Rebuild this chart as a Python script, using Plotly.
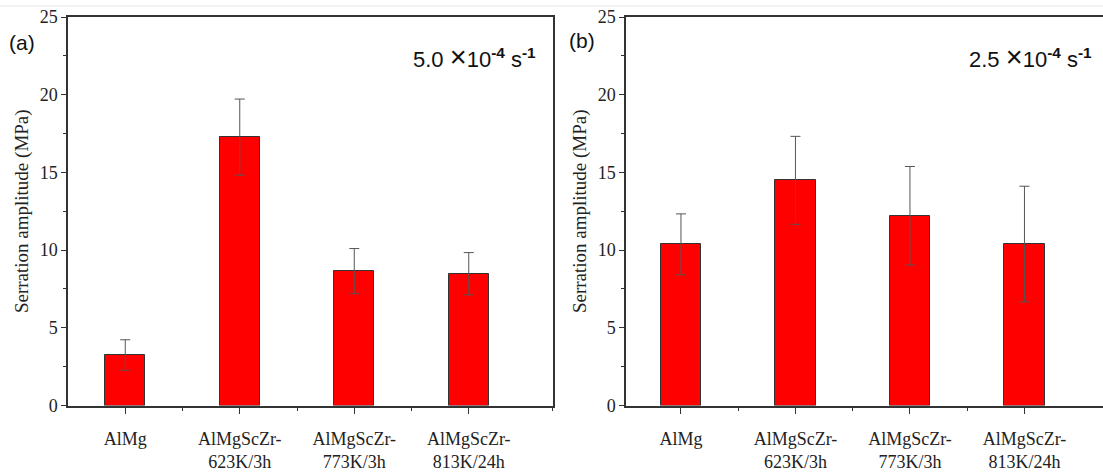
import plotly.graph_objects as go

categories = ["AlMg", "AlMgScZr-<br>623K/3h", "AlMgScZr-<br>773K/3h", "AlMgScZr-<br>813K/24h"]
values_a = [3.25, 17.27, 8.65, 8.48]
errors_a = [0.98, 2.45, 1.45, 1.36]
values_b = [10.37, 14.49, 12.21, 10.39]
errors_b = [1.96, 2.83, 3.17, 3.72]
labels = ["(a)", "(b)"]
rates = [
    "5.0 <span style='font-size:29px'>×</span>10<sup><b>-4</b></sup> s<sup><b>-1</b></sup>",
    "2.5 <span style='font-size:29px'>×</span>10<sup><b>-4</b></sup> s<sup><b>-1</b></sup>",
]

W, H = 1103, 473
xpos = list(range(len(categories)))

fig = go.Figure()
for i, (vals, errs) in enumerate([(values_a, errors_a), (values_b, errors_b)]):
    fig.add_trace(go.Bar(
        x=xpos, y=vals, width=0.35,
        marker=dict(color="#FF0000", line=dict(color="#333333", width=1)),
        error_y=dict(type="data", array=errs, visible=True, color="#555555", thickness=1, width=5),
        xaxis="x" if i == 0 else "x2", yaxis="y" if i == 0 else "y2",
        showlegend=False,
    ))

ydom = [1 - 405.5 / H, 1 - 17 / H]
serif = "Liberation Serif, DejaVu Serif, serif"
sans = "Liberation Sans, Arial, sans-serif"

def xaxis(domain, rng, mirror, anchor, minor_vals):
    return dict(
        domain=domain, range=rng, anchor=anchor, automargin=False,
        tickmode="array", tickvals=xpos, ticktext=categories,
        ticks="outside", ticklen=7, tickwidth=1, tickcolor="#333",
        minor=dict(tickmode="array", tickvals=minor_vals, ticks="outside", ticklen=4, tickcolor="#333"),
        showline=True, linecolor="#333", linewidth=1.5, mirror=mirror,
        showgrid=False, zeroline=False, ticklabelstandoff=9,
        tickfont=dict(family=serif, size=18, color="#222"),
        fixedrange=True,
    )

def yaxis(domain, mirror, anchor):
    return dict(
        domain=domain, range=[0, 25], anchor=anchor, automargin=False,
        tickmode="linear", tick0=0, dtick=5,
        ticks="outside", ticklen=5, tickwidth=1, tickcolor="#333",
        minor=dict(dtick=2.5, ticks="outside", ticklen=3, tickcolor="#333"),
        showline=True, linecolor="#333", linewidth=1.5, mirror=mirror,
        showgrid=False, zeroline=False,
        tickfont=dict(family=serif, size=18, color="#222"),
        title=dict(text="Serration amplitude (MPa)", font=dict(family=serif, size=19, color="#222"), standoff=6),
        fixedrange=True,
    )

px_per_unit = 114.5
left_x0, left_x1 = 68, 553
right_x0 = 626
left_end = -0.5 + (left_x1 - left_x0) / px_per_unit
right_end = -0.48 + (W - right_x0) / px_per_unit
fig.update_layout(
    width=W, height=H,
    margin=dict(l=0, r=0, t=0, b=0, autoexpand=False),
    paper_bgcolor="white", plot_bgcolor="white",
    font=dict(family=serif),
    xaxis=xaxis([left_x0 / W, left_x1 / W], [-0.5, left_end], True, "y", [0.5, 1.5, 2.5, left_end - 0.001]),
    yaxis=yaxis(ydom, True, "x"),
    xaxis2=xaxis([right_x0 / W, 1.0], [-0.48, right_end], True, "y2", [0.5, 1.5, 2.5]),
    yaxis2=yaxis(ydom, False, "x2"),
    bargap=0,
)

# panel labels and strain-rate annotations
fig.add_annotation(text=labels[0], x=7 / W, y=1 - 42 / H, xref="paper", yref="paper",
                   xanchor="left", yanchor="middle", showarrow=False,
                   font=dict(family=sans, size=21, color="#111"))
fig.add_annotation(text=labels[1], x=567 / W, y=1 - 41 / H, xref="paper", yref="paper",
                   xanchor="left", yanchor="middle", showarrow=False,
                   font=dict(family=sans, size=21, color="#111"))
fig.add_annotation(text=rates[0], x=538 / W, y=1 - 57 / H, xref="paper", yref="paper",
                   xanchor="right", yanchor="middle", showarrow=False,
                   font=dict(family=sans, size=22, color="#111"))
fig.add_annotation(text=rates[1], x=1094 / W, y=1 - 57 / H, xref="paper", yref="paper",
                   xanchor="right", yanchor="middle", showarrow=False,
                   font=dict(family=sans, size=22, color="#111"))

# thin light border line at the top of the figure
fig.add_shape(type="line", xref="paper", yref="paper", x0=0, x1=1, y0=1 - 6 / H, y1=1 - 6 / H,
              line=dict(color="#e6e6e6", width=1))

fig.write_html("out.html", config={"displayModeBar": False},
               post_script="document.body.style.margin='0';document.body.style.padding='0';")
